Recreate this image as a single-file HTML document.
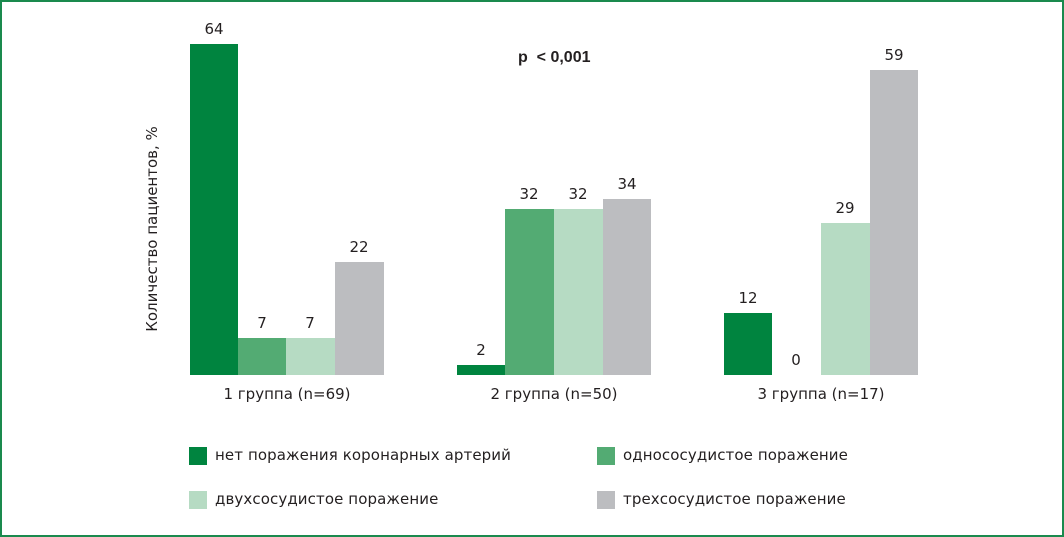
<!DOCTYPE html>
<html><head><meta charset="utf-8"><style>
body{margin:0;width:1064px;height:537px;background:#fff;font-family:"DejaVu Sans","Liberation Sans",sans-serif;color:#231f20;overflow:hidden}
.frame{position:absolute;left:0px;top:0px;width:1060px;height:533px;border:2px solid #1a8a4e}
.b{position:absolute;bottom:162px}
.v{position:absolute;font-size:15px;text-align:center;width:48px}
.g{position:absolute;font-size:15px;text-align:center;width:200px;top:385px}
.sq{position:absolute;width:18px;height:18px}
.lt{position:absolute;font-size:15px;white-space:nowrap;letter-spacing:0.1px}
</style></head><body>
<div class="frame"></div>
<div style="position:absolute;left:152px;top:229px;font-size:15px;transform:translate(-50%,-50%) rotate(-90deg);white-space:nowrap">Количество пациентов, %</div>
<div style="position:absolute;left:518px;top:49px;font-size:16px;font-weight:bold;font-family:'Liberation Sans',sans-serif">p&nbsp; &lt; 0,001</div>

<div class="b" style="left:190px;width:48px;height:331px;background:#00843f"></div>
<div class="b" style="left:238px;width:48px;height:37px;background:#53ab73"></div>
<div class="b" style="left:286px;width:49px;height:37px;background:#b6dbc3"></div>
<div class="b" style="left:335px;width:49px;height:113px;background:#bcbdc0"></div>
<div class="v" style="left:190px;top:20px">64</div>
<div class="v" style="left:238px;top:314px">7</div>
<div class="v" style="left:286px;top:314px">7</div>
<div class="v" style="left:335px;top:238px">22</div>

<div class="b" style="left:457px;width:48px;height:10px;background:#00843f"></div>
<div class="b" style="left:505px;width:49px;height:166px;background:#53ab73"></div>
<div class="b" style="left:554px;width:49px;height:166px;background:#b6dbc3"></div>
<div class="b" style="left:603px;width:48px;height:176px;background:#bcbdc0"></div>
<div class="v" style="left:457px;top:341px">2</div>
<div class="v" style="left:505px;top:185px">32</div>
<div class="v" style="left:554px;top:185px">32</div>
<div class="v" style="left:603px;top:175px">34</div>

<div class="b" style="left:724px;width:48px;height:62px;background:#00843f"></div>
<div class="b" style="left:821px;width:49px;height:152px;background:#b6dbc3"></div>
<div class="b" style="left:870px;width:48px;height:305px;background:#bcbdc0"></div>
<div class="v" style="left:724px;top:289px">12</div>
<div class="v" style="left:772px;top:351px">0</div>
<div class="v" style="left:821px;top:199px">29</div>
<div class="v" style="left:870px;top:46px">59</div>

<div class="g" style="left:187px">1 группа (n=69)</div>
<div class="g" style="left:454px">2 группа (n=50)</div>
<div class="g" style="left:721px">3 группа (n=17)</div>

<div class="sq" style="left:189px;top:447px;background:#00843f"></div>
<div class="lt" style="left:215px;top:446px">нет поражения коронарных артерий</div>
<div class="sq" style="left:597px;top:447px;background:#53ab73"></div>
<div class="lt" style="left:623px;top:446px">односоcудистое поражение</div>
<div class="sq" style="left:189px;top:491px;background:#b6dbc3"></div>
<div class="lt" style="left:215px;top:490px">двухсосудистое поражение</div>
<div class="sq" style="left:597px;top:491px;background:#bcbdc0"></div>
<div class="lt" style="left:623px;top:490px">трехсосудистое поражение</div>
</body></html>
